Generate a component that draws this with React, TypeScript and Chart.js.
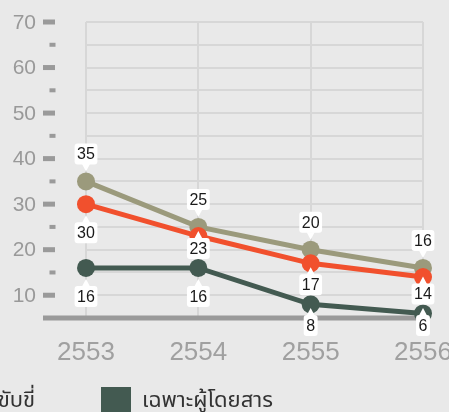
import React, { useEffect, useRef } from "react";
import { Chart, registerables } from "chart.js";

Chart.register(...registerables);

const categories = ["2553", "2554", "2555", "2556"];
const seriesKhaki = [35, 25, 20, 16];
const seriesOrange = [30, 23, 17, 14];
const seriesGreen = [16, 16, 8, 6];
const yMajorTicks = [10, 20, 30, 40, 50, 60, 70];
const yMinorTicks = [15, 25, 35, 45, 55, 65];
const legendCutLabel = "ขับขี่";
const legendLabel = "เฉพาะผู้โดยสาร";

const KHAKI = "#9b9a7c";
const ORANGE = "#f1502d";
const GREEN = "#435a51";
const BG = "#e9e9e9";
const GRID = "#d7d7d7";
const AXIS_GRAY = "#9a9a9a";
const LABEL_FONT = '"Liberation Sans", Arial, Helvetica, sans-serif';
const THAI_FONT = '"Noto Sans Thai", "Noto Sans Thai UI", "Noto Sans", "DejaVu Sans", sans-serif';

const decorPlugin = {
  id: "decor",
  beforeDraw(chart: any) {
    const { ctx, width, height } = chart;
    ctx.save();
    ctx.fillStyle = BG;
    ctx.fillRect(0, 0, width, height);
    ctx.restore();
  },
  beforeDatasetsDraw(chart: any) {
    const { ctx, chartArea } = chart;
    const y = chart.scales.y;
    const x = chart.scales.x;
    ctx.save();
    ctx.fillStyle = AXIS_GRAY;
    yMajorTicks.forEach((v) => {
      const py = y.getPixelForValue(v);
      ctx.fillRect(43, py - 2.5, 12, 5);
    });
    yMinorTicks.forEach((v) => {
      const py = y.getPixelForValue(v);
      ctx.fillRect(49.5, py - 2, 6, 4);
    });
    ctx.fillStyle = "#999999";
    ctx.font = `21px ${LABEL_FONT}`;
    ctx.textAlign = "right";
    ctx.textBaseline = "middle";
    yMajorTicks.forEach((v) => {
      const py = y.getPixelForValue(v);
      ctx.fillText(String(v), 36, py + 1);
    });
    ctx.fillStyle = AXIS_GRAY;
    ctx.fillRect(43, chartArea.bottom - 2.5, chartArea.right + 7 - 43, 5);
    ctx.fillStyle = "#a0a0a0";
    ctx.font = `26px ${LABEL_FONT}`;
    ctx.textAlign = "center";
    ctx.textBaseline = "middle";
    categories.forEach((c, i) => {
      ctx.fillText(c, x.getPixelForValue(i), 353);
    });
    ctx.fillStyle = "#333333";
    ctx.font = `22px ${THAI_FONT}`;
    ctx.textAlign = "right";
    ctx.textBaseline = "alphabetic";
    ctx.fillText(legendCutLabel, 35, 407);
    ctx.fillStyle = GREEN;
    ctx.fillRect(101, 387, 30, 30);
    ctx.fillStyle = "#333333";
    ctx.textAlign = "left";
    ctx.fillText(legendLabel, 142, 407);
    ctx.restore();
  },
  afterDatasetsDraw(chart: any) {
    const { ctx } = chart;
    const metas = chart.data.datasets.map((_: any, i: number) => chart.getDatasetMeta(i));
    const H = 21, R = 3, PAD = 2.5, PH = 7, PW = 4, PTR = 9;
    const bottomLimit = 336;
    ctx.save();
    ctx.font = `16px ${LABEL_FONT}`;
    chart.data.datasets.forEach((ds: any, di: number) => {
      const meta = metas[di];
      meta.data.forEach((pt: any, i: number) => {
        const x = pt.x, y = pt.y;
        const text = String(ds.data[i]);
        const w = ctx.measureText(text).width + 2 * PAD;
        let top: number;
        const above = ds.labelPlace === "above";
        if (above) {
          top = y - 17 - H;
        } else {
          top = y + 18;
          metas.forEach((m: any, dj: number) => {
            if (dj === di) return;
            const o = m.data[i];
            if (o.y > y && top + H > o.y - PTR && top < o.y + PTR) {
              top = Math.min(top, o.y - PTR - H);
            }
          });
          top = Math.min(top, bottomLimit - H);
        }
        const left = x - w / 2;
        ctx.fillStyle = "#ffffff";
        ctx.beginPath();
        ctx.moveTo(left + R, top);
        ctx.lineTo(left + w - R, top);
        ctx.quadraticCurveTo(left + w, top, left + w, top + R);
        ctx.lineTo(left + w, top + H - R);
        ctx.quadraticCurveTo(left + w, top + H, left + w - R, top + H);
        ctx.lineTo(left + R, top + H);
        ctx.quadraticCurveTo(left, top + H, left, top + H - R);
        ctx.lineTo(left, top + R);
        ctx.quadraticCurveTo(left, top, left + R, top);
        ctx.closePath();
        ctx.fill();
        ctx.beginPath();
        if (above) {
          ctx.moveTo(x - PW, top + H - 0.5);
          ctx.lineTo(x + PW, top + H - 0.5);
          ctx.lineTo(x, top + H + PH);
        } else {
          ctx.moveTo(x - PW, top + 0.5);
          ctx.lineTo(x + PW, top + 0.5);
          ctx.lineTo(x, top - PH);
        }
        ctx.closePath();
        ctx.fill();
        ctx.fillStyle = "#1a1a1a";
        ctx.textAlign = "center";
        ctx.textBaseline = "middle";
        ctx.fillText(text, x, top + H / 2 + 1);
      });
    });
    ctx.restore();
  },
};

export default function App() {
  const ref = useRef<HTMLCanvasElement | null>(null);
  useEffect(() => {
    if (!ref.current) return;
    const mk = (label: string, data: number[], color: string, place: string) => ({
      label,
      data,
      borderColor: color,
      backgroundColor: color,
      borderWidth: 5,
      pointRadius: 9,
      pointHoverRadius: 9,
      pointBorderWidth: 0,
      pointBackgroundColor: color,
      tension: 0,
      clip: false,
      labelPlace: place,
    });
    const chart = new Chart(ref.current, {
      type: "line",
      data: {
        labels: categories,
        datasets: [
          mk(legendLabel, seriesGreen, GREEN, "below") as any,
          mk("ชุดข้อมูล 2", seriesOrange, ORANGE, "below") as any,
          mk(legendCutLabel, seriesKhaki, KHAKI, "above") as any,
        ],
      },
      options: {
        animation: false,
        responsive: false,
        devicePixelRatio: 1,
        events: [],
        layout: { padding: { left: 86, right: 26, top: 22, bottom: 94 } },
        plugins: { legend: { display: false }, tooltip: { enabled: false } },
        scales: {
          x: {
            type: "category",
            offset: false,
            grid: { color: GRID, lineWidth: 2, drawTicks: false },
            border: { display: false },
            ticks: { display: false },
          },
          y: {
            min: 5,
            max: 70,
            grid: {
              color: (c: any) => (c.tick && c.tick.value === 5 ? "rgba(0,0,0,0)" : GRID),
              lineWidth: 2,
              drawTicks: false,
            },
            border: { display: false },
            ticks: { display: false, stepSize: 5 },
          },
        },
      },
      plugins: [decorPlugin],
    });
    return () => chart.destroy();
  }, []);
  return (
    <div style={{ position: "fixed", left: 0, top: 0, width: 449, height: 412, background: BG }}>
      <canvas ref={ref} width={449} height={412} style={{ display: "block" }} />
    </div>
  );
}
